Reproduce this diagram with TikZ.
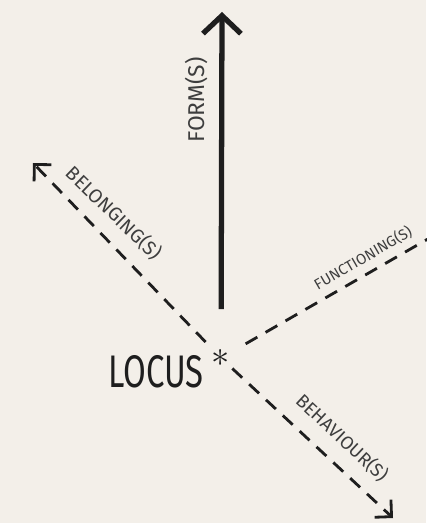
\documentclass[tikz,border=0pt]{standalone}
\usepackage{fontspec}
\setmainfont{Fira Sans}
\usetikzlibrary{arrows.meta}
\definecolor{paper}{RGB}{243,239,233}
\definecolor{ink}{RGB}{30,30,30}
\definecolor{pencil}{RGB}{62,62,62}

\begin{document}
\begin{tikzpicture}[x=0.02cm, y=-0.02cm,
    axis/.style={draw=ink, line width=3pt, -{Straight Barb[length=0.36cm, width=0.76cm]}},
    dashaxis/.style={draw=ink, line width=1.6pt, dash pattern=on 0.27cm off 0.19cm, -{Straight Barb[length=0.24cm, width=0.48cm]}},
    axislabel/.style={text=pencil, inner sep=1pt}]
    \useasboundingbox[fill=paper] (0,0) rectangle (426,523);
    % Nodes
    \node[inner sep=0pt, text=ink] (locus) at (221,358) {\huge$\ast$};
    \node[text=ink] (locuslabel) at (156,372) {\fontsize{26}{28}\selectfont\scalebox{0.72}[1]{LOCUS}};
    \coordinate (formtip) at (222,12);
    \coordinate (belongingtip) at (33,163);
    \coordinate (functioningend) at (440,232);
    \coordinate (behaviourtip) at (393,518);
    \node[axislabel, rotate=90, font=\fontsize{13}{14}\selectfont] (formlabel) at (197,100) {FORM(S)};
    \node[axislabel, rotate=-44, font=\fontsize{11}{12}\selectfont] (belonginglabel) at (114,213) {BELONGING(S)};
    \node[axislabel, rotate=30, font=\fontsize{8.5}{9}\selectfont] (functioninglabel) at (363,258) {FUNCTIONING(S)};
    \node[axislabel, rotate=-43, font=\fontsize{10.5}{11}\selectfont] (behaviourlabel) at (342,438) {BEHAVIOUR(S)};
    % Edges
    \draw[axis, shorten <=0.8cm] (locus) -- (formtip);
    \draw[dashaxis, shorten <=0.2cm] (locus) -- (belongingtip);
    \draw[dashaxis, -, shorten <=0.35cm] (locus) -- (functioningend);
    \draw[dashaxis, shorten <=0.05cm] (locus) -- (behaviourtip);
\end{tikzpicture}
\end{document}
